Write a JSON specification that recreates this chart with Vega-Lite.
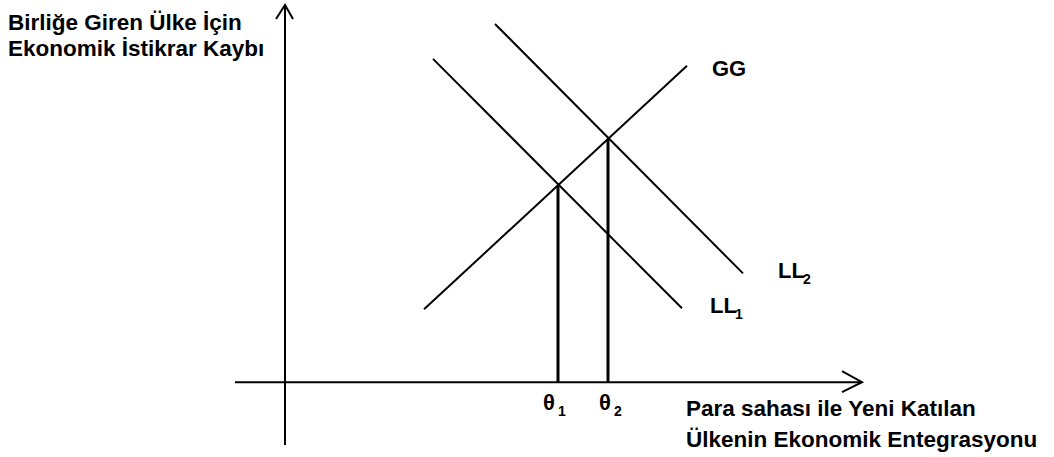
{
  "$schema": "https://vega.github.io/schema/vega-lite/v6.json",
  "width": 1054,
  "height": 457,
  "padding": 0,
  "autosize": {"type": "fit", "contains": "padding"},
  "background": "white",
  "config": {"view": {"stroke": null}},
  "datasets": {
    "curves": [
      {"series": "GG", "x": 139, "y": 73, "o": 1},
      {"series": "GG", "x": 402, "y": 317, "o": 2},
      {"series": "LL1", "x": 148, "y": 324, "o": 1},
      {"series": "LL1", "x": 397, "y": 74, "o": 2},
      {"series": "LL2", "x": 210, "y": 359, "o": 1},
      {"series": "LL2", "x": 458, "y": 109, "o": 2},
      {"series": "yaxis", "x": 0, "y": -63, "o": 1},
      {"series": "yaxis", "x": 0, "y": 378, "o": 2},
      {"series": "xaxis", "x": -50, "y": 0, "o": 1},
      {"series": "xaxis", "x": 577, "y": 0, "o": 2},
      {"series": "yarrow", "x": -9, "y": 364, "o": 1},
      {"series": "yarrow", "x": 0, "y": 378, "o": 2},
      {"series": "yarrow", "x": 8, "y": 364, "o": 3},
      {"series": "xarrow", "x": 557, "y": 11, "o": 1},
      {"series": "xarrow", "x": 577, "y": 0, "o": 2},
      {"series": "xarrow", "x": 557, "y": -10, "o": 3}
    ],
    "drops": [
      {"name": "theta1", "x": 273, "y": 0, "y2": 197},
      {"name": "theta2", "x": 323, "y": 0, "y2": 244}
    ],
    "labels": [
      {"text": "GG", "x": 427, "y": 314},
      {"text": "LL", "x": 493, "y": 111},
      {"text": "LL", "x": 425, "y": 76},
      {"text": "θ", "x": 258, "y": -21},
      {"text": "θ", "x": 314, "y": -21}
    ],
    "subs": [
      {"text": "2", "x": 518, "y": 102},
      {"text": "1", "x": 450, "y": 67},
      {"text": "1", "x": 273, "y": -30},
      {"text": "2", "x": 329, "y": -30}
    ],
    "titles": [
      {"text": "Birliğe Giren Ülke İçin", "x": -277, "y": 360},
      {"text": "Ekonomik İstikrar Kaybı", "x": -277, "y": 334},
      {"text": "Para sahası ile Yeni Katılan", "x": 401, "y": -27},
      {"text": "Ülkenin Ekonomik Entegrasyonu", "x": 401, "y": -58}
    ]
  },
  "layer": [
    {
      "data": {"name": "curves"},
      "mark": {"type": "line", "color": "black", "strokeWidth": 2},
      "encoding": {
        "x": {"field": "x", "type": "quantitative", "scale": {"domain": [-285, 769], "nice": false, "zero": false}, "axis": null},
        "y": {"field": "y", "type": "quantitative", "scale": {"domain": [-75, 382], "nice": false, "zero": false}, "axis": null},
        "detail": {"field": "series"},
        "order": {"field": "o"}
      }
    },
    {
      "data": {"name": "drops"},
      "mark": {"type": "rule", "color": "black", "strokeWidth": 3},
      "encoding": {
        "x": {"field": "x", "type": "quantitative"},
        "y": {"field": "y", "type": "quantitative"},
        "y2": {"field": "y2"}
      }
    },
    {
      "data": {"name": "labels"},
      "mark": {"type": "text", "align": "left", "baseline": "middle", "font": "Liberation Sans", "fontSize": 22, "fontWeight": "bold", "color": "black"},
      "encoding": {
        "x": {"field": "x", "type": "quantitative"},
        "y": {"field": "y", "type": "quantitative"},
        "text": {"field": "text"}
      }
    },
    {
      "data": {"name": "subs"},
      "mark": {"type": "text", "align": "left", "baseline": "middle", "font": "Liberation Sans", "fontSize": 14, "fontWeight": "bold", "color": "black"},
      "encoding": {
        "x": {"field": "x", "type": "quantitative"},
        "y": {"field": "y", "type": "quantitative"},
        "text": {"field": "text"}
      }
    },
    {
      "data": {"name": "titles"},
      "mark": {"type": "text", "align": "left", "baseline": "middle", "font": "Liberation Sans", "fontSize": 22.5, "fontWeight": "bold", "color": "black"},
      "encoding": {
        "x": {"field": "x", "type": "quantitative"},
        "y": {"field": "y", "type": "quantitative"},
        "text": {"field": "text"}
      }
    }
  ]
}
